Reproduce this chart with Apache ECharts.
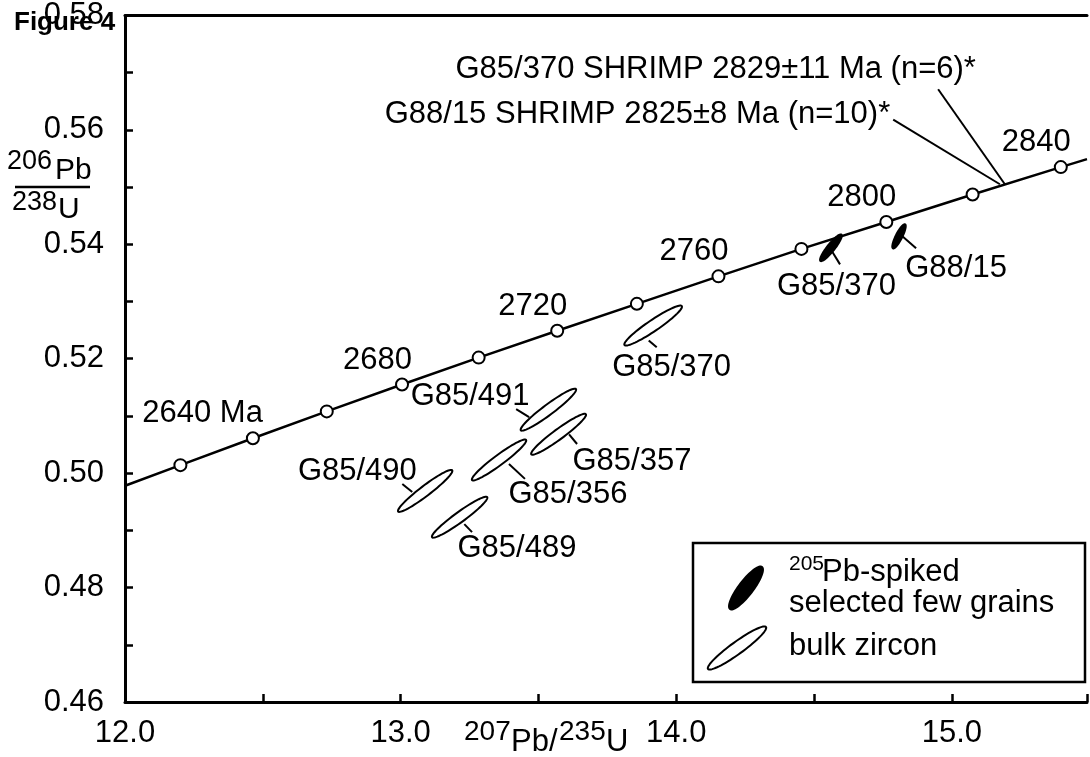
<!DOCTYPE html>
<html>
<head>
<meta charset="utf-8">
<style>
  html, body { margin: 0; padding: 0; background: #fff; }
  #chart { width: 1090px; height: 757px; }
</style>
<script src="https://cdn.jsdelivr.net/npm/echarts@6/dist/echarts.min.js"></script>
</head>
<body>
<div id="chart"></div>
<script>
// Concordia ages (Ma) and their positions
const concAges = [2620, 2640, 2660, 2680, 2700, 2720, 2740, 2760, 2780, 2800, 2820, 2840];
const concX = [12.201, 12.464, 12.732, 13.005, 13.283, 13.568, 13.857, 14.153, 14.454, 14.762, 15.075, 15.395];
const concY = [0.5014, 0.5061, 0.5108, 0.5155, 0.5202, 0.5249, 0.5296, 0.5344, 0.5392, 0.5439, 0.5487, 0.5535];
const labelledAges = [2640, 2680, 2720, 2760, 2800, 2840];
const curveStart = [12.0, 0.4978];
const curveEnd = [15.49, 0.5549];

// Error ellipses: centre, upper tip of the long axis, width/length ratio
const ellName = ["G85/490", "G85/489", "G85/356", "G85/491", "G85/357", "G85/370", "G85/370", "G88/15"];
const ellSpiked = [0, 0, 0, 0, 0, 0, 1, 1];
const ellCx = [13.089, 13.214, 13.357, 13.536, 13.573, 13.916, 14.561, 14.808];
const ellCy = [0.4969, 0.4923, 0.5023, 0.5111, 0.5068, 0.5258, 0.5394, 0.5414];
const ellTx = [13.187, 13.314, 13.455, 13.636, 13.672, 14.020, 14.599, 14.830];
const ellTy = [0.5005, 0.4958, 0.5058, 0.5147, 0.5103, 0.5292, 0.5417, 0.5435];
const ellRatio = [0.15, 0.15, 0.15, 0.15, 0.15, 0.16, 0.22, 0.24];

// Sample labels: text anchor and leader line ends
const lblX = [12.843, 13.422, 13.607, 13.252, 13.839, 13.983, 14.581, 15.015];
const lblY = [0.5003, 0.4869, 0.4962, 0.5134, 0.5021, 0.5185, 0.5327, 0.5358];
const leadX1 = [13.006, 13.231, 13.393, 13.419, 13.611, 13.900, 14.562, 14.816];
const leadY1 = [0.4981, 0.4911, 0.5016, 0.5112, 0.5068, 0.5232, 0.5390, 0.5416];
const leadX2 = [13.042, 13.259, 13.451, 13.466, 13.640, 13.929, 14.594, 14.870];
const leadY2 = [0.4967, 0.4897, 0.4990, 0.5098, 0.5051, 0.5220, 0.5365, 0.5393];

// SHRIMP ages
const shrimpText = ["G85/370 SHRIMP 2829\u00b111 Ma (n=6)*", "G88/15 SHRIMP 2825\u00b18 Ma (n=10)*"];
const shrimpX = [15.087, 14.776];
const shrimpY = [0.5706, 0.5627];
const shrimpX1 = [14.950, 14.787];
const shrimpY1 = [0.5671, 0.5618];
const shrimpX2 = [15.192, 15.174];
const shrimpY2 = [0.5505, 0.5505];

const FONT = '"Liberation Sans", Arial, Helvetica, sans-serif';

function ellipsePoints(cx, cy, ux, uy, r) {
    const vx = -uy * r, vy = ux * r;
    const pts = [];
    for (let i = 0; i < 72; i++) {
        const a = (i / 72) * Math.PI * 2;
        pts.push([cx + ux * Math.cos(a) + vx * Math.sin(a), cy + uy * Math.cos(a) + vy * Math.sin(a)]);
    }
    return pts;
}

const chart = echarts.init(document.getElementById("chart"));

const lineData = [curveStart].concat(concX.map((x, i) => [x, concY[i]])).concat([curveEnd]);

chart.setOption({
    animation: false,
    textStyle: { fontFamily: FONT },
    grid: { left: 125, right: 0, top: 12, bottom: 55, containLabel: false },
    xAxis: [
        {
            type: "value",
            min: 12,
            max: 15.49,
            interval: 0.5,
            splitLine: { show: false },
            axisLine: { lineStyle: { color: "#000", width: 3 } },
            axisTick: { inside: true, length: 8, lineStyle: { color: "#000", width: 2.5 } },
            axisLabel: {
                color: "#000",
                fontSize: 31,
                margin: 16,
                formatter: (v) => (Math.abs(v - Math.round(v)) < 1e-6 ? v.toFixed(1) : ""),
            },
        },
        {
            type: "value",
            position: "top",
            min: 12,
            max: 15.49,
            splitLine: { show: false },
            axisLine: { lineStyle: { color: "#000", width: 3 } },
            axisTick: { show: false },
            axisLabel: { show: false },
        },
    ],
    yAxis: {
        type: "value",
        min: 0.46,
        max: 0.58,
        interval: 0.01,
        splitLine: { show: false },
        axisLine: { lineStyle: { color: "#000", width: 3 } },
        axisTick: { inside: true, length: 8, lineStyle: { color: "#000", width: 2.5 } },
        axisLabel: {
            color: "#000",
            fontSize: 31,
            margin: 21,
            formatter: (v) => {
                const k = Math.round(v * 100);
                return k % 2 === 0 && Math.abs(v * 100 - k) < 1e-6 ? v.toFixed(2) : "";
            },
        },
    },
    series: [
        // Concordia curve
        {
            type: "line",
            data: lineData,
            showSymbol: false,
            smooth: false,
            lineStyle: { color: "#000", width: 2.5 },
            silent: true,
            z: 2,
        },
        // Age markers
        {
            type: "scatter",
            data: concX.map((x, i) => [x, concY[i], concAges[i]]),
            symbol: "circle",
            symbolSize: 12,
            itemStyle: { color: "#fff", borderColor: "#000", borderWidth: 2, opacity: 1 },
            label: {
                show: true,
                position: "top",
                align: "right",
                distance: 2,
                offset: [10, 0],
                color: "#000",
                fontSize: 31,
                fontFamily: FONT,
                formatter: (p) => {
                    const age = p.value[2];
                    if (labelledAges.indexOf(age) < 0) return "";
                    return age === 2640 ? age + " Ma" : String(age);
                },
            },
            silent: true,
            z: 4,
        },
        // Error ellipses
        {
            type: "custom",
            data: ellCx.map((x, i) => [x, ellCy[i], ellTx[i], ellTy[i], ellRatio[i], ellSpiked[i]]),
            renderItem: (params, api) => {
                const c = api.coord([api.value(0), api.value(1)]);
                const t = api.coord([api.value(2), api.value(3)]);
                const filled = api.value(5) === 1;
                return {
                    type: "polygon",
                    shape: { points: ellipsePoints(c[0], c[1], t[0] - c[0], t[1] - c[1], api.value(4)) },
                    style: { fill: filled ? "#000" : "#fff", stroke: "#000", lineWidth: 2 },
                };
            },
            silent: true,
            z: 3,
        },
        // Sample labels with leader lines
        {
            type: "custom",
            data: lblX.map((x, i) => [x, lblY[i], leadX1[i], leadY1[i], leadX2[i], leadY2[i]]),
            renderItem: (params, api) => {
                const p = api.coord([api.value(0), api.value(1)]);
                const a = api.coord([api.value(2), api.value(3)]);
                const b = api.coord([api.value(4), api.value(5)]);
                return {
                    type: "group",
                    children: [
                        { type: "line", shape: { x1: a[0], y1: a[1], x2: b[0], y2: b[1] }, style: { stroke: "#000", lineWidth: 2 } },
                        {
                            type: "text",
                            x: p[0],
                            y: p[1],
                            style: { text: ellName[params.dataIndex], fill: "#000", fontSize: 31, fontFamily: FONT, align: "center", verticalAlign: "middle" },
                        },
                    ],
                };
            },
            silent: true,
            clip: false,
            z: 5,
        },
        // SHRIMP age annotations
        {
            type: "custom",
            data: shrimpX.map((x, i) => [x, shrimpY[i], shrimpX1[i], shrimpY1[i], shrimpX2[i], shrimpY2[i]]),
            renderItem: (params, api) => {
                const p = api.coord([api.value(0), api.value(1)]);
                const a = api.coord([api.value(2), api.value(3)]);
                const b = api.coord([api.value(4), api.value(5)]);
                return {
                    type: "group",
                    children: [
                        { type: "line", shape: { x1: a[0], y1: a[1], x2: b[0], y2: b[1] }, style: { stroke: "#000", lineWidth: 2 } },
                        {
                            type: "text",
                            x: p[0],
                            y: p[1],
                            style: { text: shrimpText[params.dataIndex], fill: "#000", fontSize: 31, fontFamily: FONT, align: "right", verticalAlign: "middle" },
                        },
                    ],
                };
            },
            silent: true,
            clip: false,
            z: 5,
        },
    ],
    graphic: [
        // figure title
        { type: "text", x: 14, y: 23, z: 100, style: { text: "Figure 4", fill: "#000", font: "bold 26px " + FONT, verticalAlign: "middle" } },
        // y axis name as a fraction
        { type: "text", x: 7, y: 162, style: { text: "206", fill: "#000", fontSize: 27, fontFamily: FONT, verticalAlign: "middle" } },
        { type: "text", x: 55, y: 171, style: { text: "Pb", fill: "#000", fontSize: 30, fontFamily: FONT, verticalAlign: "middle" } },
        { type: "line", shape: { x1: 15, y1: 187, x2: 90, y2: 187 }, style: { stroke: "#000", lineWidth: 2.5 } },
        { type: "text", x: 12, y: 203, style: { text: "238", fill: "#000", fontSize: 27, fontFamily: FONT, verticalAlign: "middle" } },
        { type: "text", x: 58, y: 210, style: { text: "U", fill: "#000", fontSize: 30, fontFamily: FONT, verticalAlign: "middle" } },
        // x axis name
        { type: "text", x: 464, y: 732, style: { text: "207", fill: "#000", fontSize: 28, fontFamily: FONT, verticalAlign: "middle" } },
        { type: "text", x: 511, y: 742, style: { text: "Pb/", fill: "#000", fontSize: 31, fontFamily: FONT, verticalAlign: "middle" } },
        { type: "text", x: 559, y: 732, style: { text: "235", fill: "#000", fontSize: 28, fontFamily: FONT, verticalAlign: "middle" } },
        { type: "text", x: 606, y: 742, style: { text: "U", fill: "#000", fontSize: 31, fontFamily: FONT, verticalAlign: "middle" } },
        // legend box
        { type: "rect", z: 50, shape: { x: 693, y: 543, width: 392, height: 139 }, style: { fill: "#fff", stroke: "#000", lineWidth: 2.5 } },
        { type: "polygon", z: 51, shape: { points: ellipsePoints(746, 588, 16, -21, 0.27) }, style: { fill: "#000", stroke: "#000", lineWidth: 2 } },
        { type: "polygon", z: 51, shape: { points: ellipsePoints(737, 648, 29, -21, 0.17) }, style: { fill: "#fff", stroke: "#000", lineWidth: 2 } },
        { type: "text", z: 51, x: 789, y: 564, style: { text: "205", fill: "#000", fontSize: 21, fontFamily: FONT, verticalAlign: "middle" } },
        { type: "text", z: 51, x: 822, y: 572, style: { text: "Pb-spiked", fill: "#000", fontSize: 31, fontFamily: FONT, verticalAlign: "middle" } },
        { type: "text", z: 51, x: 789, y: 603, style: { text: "selected few grains", fill: "#000", fontSize: 31, fontFamily: FONT, verticalAlign: "middle" } },
        { type: "text", z: 51, x: 789, y: 646, style: { text: "bulk zircon", fill: "#000", fontSize: 31, fontFamily: FONT, verticalAlign: "middle" } },
    ],
});
</script>
</body>
</html>
